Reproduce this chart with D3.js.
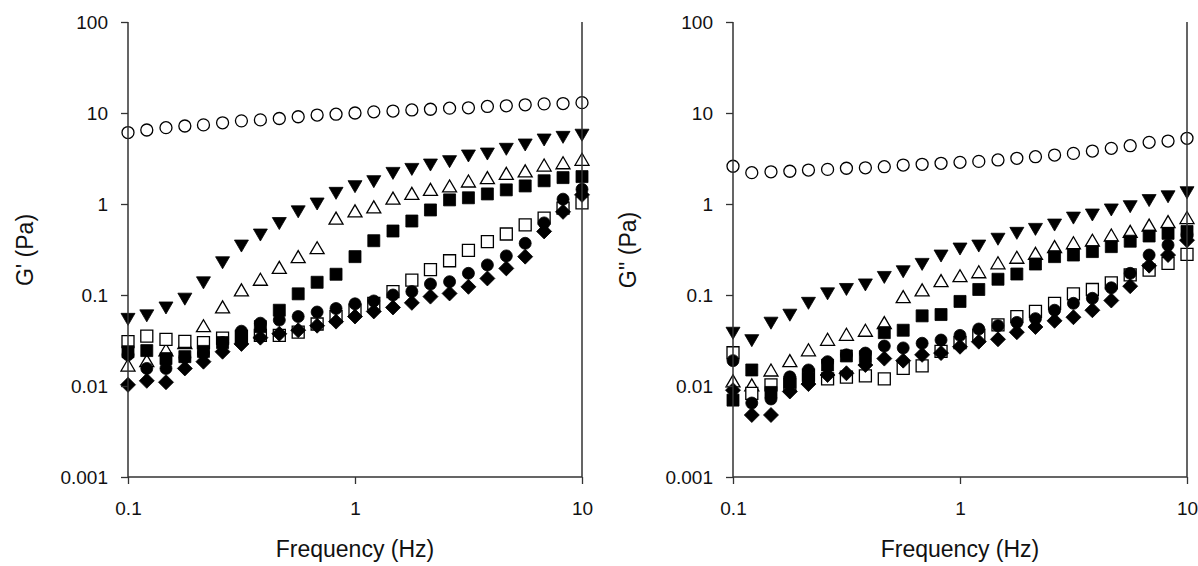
<!DOCTYPE html>
<html lang="en">
<head>
  <meta charset="UTF-8">
  <title>G' and G'' vs frequency</title>
  <script src="https://d3js.org/d3.v7.min.js"></script>
  <style>
    body { margin: 0; background: #fff; }
    svg text { font-family: Arial, "Liberation Sans", sans-serif; fill: #111; }
  </style>
</head>
<body>
  <div id="chart"></div>

  <script>
    // frequencies (Hz), same for every series
    const freq = [0.1, 0.121, 0.147, 0.178, 0.215, 0.261, 0.316, 0.383, 0.464, 0.562, 0.681, 0.825,
                  1, 1.21, 1.47, 1.78, 2.15, 2.61, 3.16, 3.83, 4.64, 5.62, 6.81, 8.25, 10];

    const yTicks = [0.001, 0.01, 0.1, 1, 10, 100];
    const yTickLabels = ['0.001', '0.01', '0.1', '1', '10', '100'];
    const xTicks = [0.1, 1, 10];
    const xTickLabels = ['0.1', '1', '10'];

    // G' (left panel)
    const gpOpenCircle = [6.1, 6.5, 6.9, 7.2, 7.4, 7.8, 8.2, 8.4, 8.7, 9.1, 9.5, 9.7, 10, 10.3, 10.5, 10.8, 11, 11.3, 11.4, 11.8, 12, 12.3, 12.6, 12.7, 13];
    const gpDownTri = [0.054, 0.059, 0.072, 0.09, 0.136, 0.226, 0.345, 0.456, 0.61, 0.82, 1.0, 1.31, 1.55, 1.76, 2.17, 2.4, 2.68, 2.92, 3.37, 3.54, 3.99, 4.45, 5.05, 5.4, 5.7];
    const gpOpenTri = [0.017, 0.019, 0.025, 0.03, 0.046, 0.074, 0.114, 0.149, 0.201, 0.264, 0.331, 0.70, 0.84, 0.93, 1.16, 1.31, 1.45, 1.58, 1.79, 1.95, 2.17, 2.31, 2.68, 2.84, 3.1];
    const gpOpenSq = [0.0307, 0.0354, 0.0326, 0.031, 0.030, 0.0335, 0.035, 0.036, 0.036, 0.039, 0.048, 0.058, 0.068, 0.081, 0.109, 0.146, 0.19, 0.238, 0.31, 0.385, 0.468, 0.59, 0.70, 0.9, 1.03];
    const gpFilledSq = [0.0238, 0.0245, 0.020, 0.021, 0.024, 0.03, 0.035, 0.045, 0.068, 0.103, 0.138, 0.169, 0.264, 0.395, 0.505, 0.65, 0.86, 1.11, 1.17, 1.29, 1.43, 1.58, 1.8, 1.95, 2.0];
    const gpFilledCirc = [0.022, 0.0156, 0.0156, 0.0206, 0.023, 0.03, 0.040, 0.049, 0.053, 0.058, 0.065, 0.071, 0.080, 0.086, 0.1, 0.109, 0.132, 0.14, 0.173, 0.214, 0.269, 0.37, 0.62, 1.13, 1.45];
    const gpDiamond = [0.0103, 0.0114, 0.011, 0.0156, 0.0185, 0.0238, 0.029, 0.034, 0.0375, 0.041, 0.046, 0.051, 0.058, 0.066, 0.073, 0.082, 0.096, 0.104, 0.123, 0.152, 0.196, 0.264, 0.50, 0.82, 1.26];

    // G'' (right panel)
    const gppOpenCircle = [2.6, 2.21, 2.26, 2.29, 2.36, 2.4, 2.47, 2.5, 2.57, 2.68, 2.73, 2.8, 2.87, 2.94, 3.05, 3.18, 3.31, 3.45, 3.6, 3.82, 4.09, 4.37, 4.76, 4.92, 5.27];
    const gppDownTri = [0.038, 0.0315, 0.049, 0.060, 0.081, 0.103, 0.115, 0.129, 0.156, 0.18, 0.217, 0.268, 0.32, 0.345, 0.41, 0.476, 0.526, 0.587, 0.70, 0.757, 0.86, 0.934, 1.09, 1.2, 1.33];
    const gppOpenTri = [0.0114, 0.0103, 0.015, 0.019, 0.025, 0.0326, 0.037, 0.041, 0.0497, 0.096, 0.114, 0.144, 0.163, 0.18, 0.226, 0.26, 0.287, 0.34, 0.375, 0.40, 0.456, 0.50, 0.587, 0.64, 0.71];
    const gppOpenSq = [0.0232, 0.0083, 0.0103, 0.0104, 0.0132, 0.012, 0.0125, 0.0129, 0.012, 0.0156, 0.0166, 0.024, 0.03, 0.036, 0.047, 0.058, 0.066, 0.081, 0.103, 0.115, 0.136, 0.166, 0.188, 0.223, 0.28];
    const gppFilledSq = [0.007, 0.015, 0.0085, 0.011, 0.012, 0.017, 0.0214, 0.021, 0.0386, 0.041, 0.059, 0.061, 0.085, 0.115, 0.149, 0.17, 0.219, 0.264, 0.275, 0.30, 0.34, 0.39, 0.445, 0.476, 0.50];
    const gppFilledCirc = [0.019, 0.0065, 0.0072, 0.0126, 0.015, 0.0185, 0.022, 0.023, 0.0275, 0.0262, 0.0295, 0.032, 0.036, 0.0423, 0.046, 0.05, 0.055, 0.068, 0.081, 0.092, 0.12, 0.173, 0.275, 0.354, 0.46];
    const gppDiamond = [0.009, 0.0048, 0.0048, 0.0087, 0.0105, 0.0132, 0.0138, 0.017, 0.020, 0.019, 0.022, 0.023, 0.027, 0.0307, 0.0326, 0.039, 0.0445, 0.052, 0.057, 0.068, 0.087, 0.125, 0.21, 0.275, 0.40];

    const width = 1198;
    const height = 566;

    // marker shapes, drawn around 0,0
    const shapes = {
      circle: 'M6,0A6,6 0 1,1 -6,0A6,6 0 1,1 6,0Z',
      square: 'M-6,-6H6V6H-6Z',
      down: 'M-7,-6H7L0,6Z',
      up: 'M-7,6H7L0,-6Z',
      diamond: 'M0,-7.5L7.5,0L0,7.5L-7.5,0Z'
    };

    const panels = [
      {
        left: 128, right: 582, title: "G' (Pa)", titleX: 33,
        series: [
          { values: gpOpenCircle, shape: 'circle', open: true },
          { values: gpDownTri, shape: 'down', open: false },
          { values: gpOpenTri, shape: 'up', open: true },
          { values: gpOpenSq, shape: 'square', open: true },
          { values: gpFilledSq, shape: 'square', open: false },
          { values: gpFilledCirc, shape: 'circle', open: false },
          { values: gpDiamond, shape: 'diamond', open: false }
        ]
      },
      {
        left: 733, right: 1187, title: "G'' (Pa)", titleX: 636,
        series: [
          { values: gppOpenCircle, shape: 'circle', open: true },
          { values: gppDownTri, shape: 'down', open: false },
          { values: gppOpenTri, shape: 'up', open: true },
          { values: gppOpenSq, shape: 'square', open: true },
          { values: gppFilledSq, shape: 'square', open: false },
          { values: gppFilledCirc, shape: 'circle', open: false },
          { values: gppDiamond, shape: 'diamond', open: false }
        ]
      }
    ];

    const plotTop = 22;
    const plotBottom = 477;

    const svg = d3.select('#chart')
      .append('svg')
      .attr('width', width)
      .attr('height', height);

    const y = d3.scaleLog().domain([0.001, 100]).range([plotBottom, plotTop]);

    panels.forEach((p) => {
      const x = d3.scaleLog().domain([0.1, 10]).range([p.left, p.right]);
      const g = svg.append('g');

      // markers
      p.series.forEach((s) => {
        g.append('g')
          .selectAll('path')
          .data(s.values.map((v, i) => ({ f: freq[i], v })))
          .enter()
          .append('path')
          .attr('d', shapes[s.shape])
          .attr('transform', (d) => `translate(${x(d.f)},${y(d.v)})`)
          .attr('fill', s.open ? '#fff' : '#000')
          .attr('stroke', '#000')
          .attr('stroke-width', s.open ? 1.3 : 0.8);
      });

      // axes
      const yAxis = d3.axisLeft(y)
        .tickValues(yTicks)
        .tickFormat((d, i) => yTickLabels[i])
        .tickSize(7)
        .tickPadding(13);
      const gy = g.append('g')
        .attr('transform', `translate(${p.left},0)`)
        .call(yAxis);

      const xAxis = d3.axisBottom(x)
        .tickValues(xTicks)
        .tickFormat((d, i) => xTickLabels[i])
        .tickSize(7)
        .tickPadding(18);
      const gx = g.append('g')
        .attr('transform', `translate(0,${plotBottom})`)
        .call(xAxis);

      [gx, gy].forEach((ax) => {
        ax.select('.domain').remove();
        ax.selectAll('line').attr('stroke', '#333').attr('stroke-width', 1.3);
        ax.selectAll('text').attr('font-size', '19px').attr('fill', '#111');
      });

      // frame: left, bottom, right
      g.append('path')
        .attr('d', `M${p.left},${plotTop}V${plotBottom}H${p.right}V${plotTop}`)
        .attr('fill', 'none')
        .attr('stroke', '#333')
        .attr('stroke-width', 1.5);

      g.append('text')
        .attr('x', (p.left + p.right) / 2)
        .attr('y', 557)
        .attr('text-anchor', 'middle')
        .attr('font-size', '23px')
        .text('Frequency (Hz)');

      g.append('text')
        .attr('transform', `translate(${p.titleX},250) rotate(-90)`)
        .attr('text-anchor', 'middle')
        .attr('font-size', '23px')
        .text(p.title);
    });
  </script>
</body>
</html>
